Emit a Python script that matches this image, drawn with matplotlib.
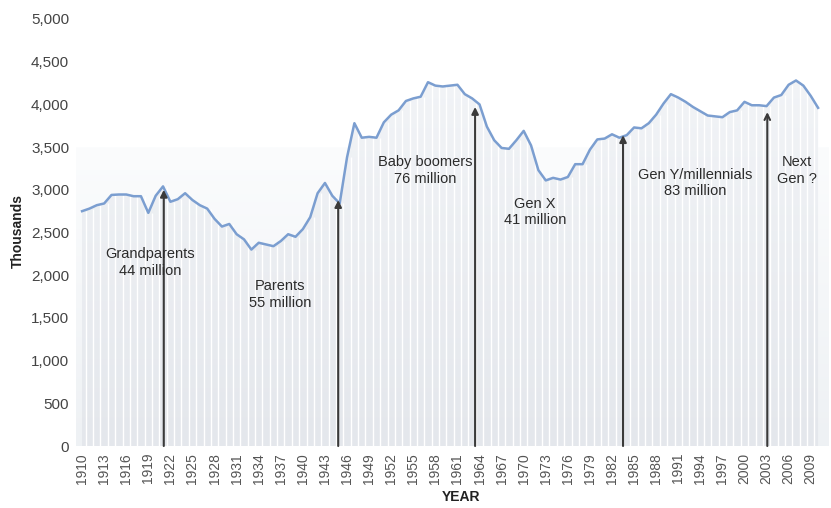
import matplotlib.pyplot as plt
import matplotlib.ticker as mticker
from matplotlib.colors import LinearSegmentedColormap
import numpy as np

plt.rcParams['font.family'] = ['Liberation Sans', 'DejaVu Sans']

# === DATA: births per year (thousands) ===
years = list(range(1910, 2011))
births = [
    2750, 2780, 2820, 2840, 2940, 2945, 2945, 2925, 2925, 2730,   # 1910-1919
    2930, 3040, 2860, 2890, 2960, 2880, 2820, 2780, 2660, 2570,   # 1920-1929
    2600, 2480, 2420, 2300, 2380, 2360, 2340, 2400, 2480, 2450,   # 1930-1939
    2540, 2680, 2960, 3080, 2930, 2840, 3380, 3780, 3610, 3620,   # 1940-1949
    3610, 3790, 3880, 3930, 4040, 4070, 4090, 4260, 4220, 4210,   # 1950-1959
    4220, 4230, 4120, 4070, 4000, 3740, 3580, 3490, 3480, 3580,   # 1960-1969
    3690, 3520, 3230, 3110, 3140, 3120, 3150, 3300, 3300, 3470,   # 1970-1979
    3590, 3600, 3650, 3610, 3640, 3730, 3720, 3780, 3880, 4010,   # 1980-1989
    4120, 4080, 4030, 3970, 3920, 3870, 3860, 3850, 3910, 3930,   # 1990-1999
    4030, 3990, 3990, 3980, 4080, 4110, 4230, 4280, 4220, 4100,   # 2000-2009
    3960,                                                         # 2010
]

# generation markers
arrow_years = [1921.1, 1944.8, 1963.4, 1983.5, 2003.1]
arrow_tops = [3000, 2880, 3970, 3640, 3910]

gen_labels = ['Grandparents\n44 million', 'Parents\n55 million',
              'Baby boomers\n76 million', 'Gen X\n41 million',
              'Gen Y/millennials\n83 million', 'Next\nGen ?']
gen_x = [1919.2, 1936.9, 1956.6, 1971.5, 1993.3, 2007.1]
gen_y = [2150, 1770, 3230, 2740, 3080, 3230]

tick_years = list(range(1910, 2010, 3))

# === PLOT ===
fig = plt.figure(figsize=(8.31, 5.08), dpi=100)
ax = fig.add_axes([0.0915, 0.122, 0.905, 0.8406])
x0, x1 = 1909.18, 2011.36
ax.set_xlim(x0, x1)
ax.set_ylim(0, 5000)

# faint wash in the lower part of the plot (white at top, grey at bottom)
bg = np.linspace(0, 1, 256).reshape(-1, 1)
ax.imshow(bg, extent=[x0, x1, 0, 3500], origin='upper', aspect='auto',
          cmap=LinearSegmentedColormap.from_list('bgw', ['#fbfcfd', '#eef1f4']),
          zorder=0)

# shaded area under the curve, striped per year
poly = ax.fill_between(years, births, 0, color='none', zorder=1)
grad = ax.imshow(bg, extent=[x0, x1, 0, 4400], origin='upper', aspect='auto',
                 cmap=LinearSegmentedColormap.from_list('fillg', ['#f2f4f7', '#e4e7ec']),
                 zorder=1)
grad.set_clip_path(poly.get_paths()[0], transform=ax.transData)
ax.vlines(np.array(years[:-1]) + 0.5, 0, births[:-1], color='white',
          linewidth=1.0, zorder=2)

ax.plot(years, births, color='#7b9ed0', linewidth=1.8, zorder=4)

# arrows
for i, (xa, ya) in enumerate(zip(arrow_years, arrow_tops)):
    style = '->' if i == len(arrow_years) - 1 else '-|>'
    ax.annotate('', xy=(xa, ya), xytext=(xa, 0),
                arrowprops=dict(arrowstyle=style, color='#3a3a3a', lw=1.5,
                                mutation_scale=10, shrinkA=0, shrinkB=0),
                zorder=5)

for txt, xt, yt in zip(gen_labels, gen_x, gen_y):
    ax.text(xt, yt, txt, ha='center', va='center', fontsize=10.5,
            color='#2b2b2b', linespacing=1.25, zorder=6)

ax.set_xticks(tick_years)
ax.set_xticklabels([str(y) for y in tick_years], rotation=90, fontsize=10,
                   color='#555555')
ax.set_yticks(range(0, 5001, 500))
ax.yaxis.set_major_formatter(mticker.FuncFormatter(lambda v, p: f'{int(v):,}'))
ax.tick_params(axis='y', labelsize=11, labelcolor='#444444', length=0, pad=5)
ax.tick_params(axis='x', length=0, pad=5)
for s in ax.spines.values():
    s.set_visible(False)

fig.text(0.021, 0.545, 'Thousands', rotation=90, ha='center', va='center',
         fontsize=10, fontweight='bold', color='#222222')
fig.text(0.555, 0.022, 'YEAR', ha='center', va='center',
         fontsize=10, fontweight='bold', color='#222222')

fig.savefig('out.png', dpi=100)
